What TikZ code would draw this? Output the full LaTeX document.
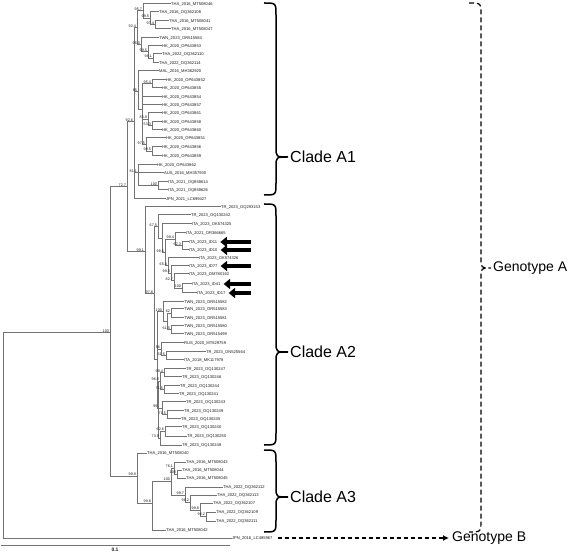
\documentclass[tikz,border=0pt]{standalone}
\usepackage{fontspec}
\setmainfont{Liberation Sans}
\usetikzlibrary{arrows.meta}
\definecolor{treegray}{RGB}{115,115,115}
\definecolor{labtext}{RGB}{25,25,25}
\newcounter{bsn}
\newcommand\vl[3]{\draw[br] (#1,#2) -- (#1,#3);}
\newcommand\hl[3]{\draw[br] (#1,#3) -- (#2,#3);}
\newcommand\lf[5]{\draw[br] (#1,#3) -- (#2,#3) node[leaf] (#4) {#5};}
\newcommand\bsl[3]{\stepcounter{bsn}\node[boot] (bs\arabic{bsn}) at ({#1-0.6},{#2-0.2}) {#3};}
\newcommand\curlybrace[7]{\draw[#1] (#2,#5) .. controls (#3,#5) .. (#3,#5+12) -- (#3,#6-10) .. controls (#3,#6) .. (#4,#6) .. controls (#3,#6) .. (#3,#6+10) -- (#3,#7-12) .. controls (#3,#7) .. (#2,#7);}
\begin{document}
\begin{tikzpicture}[x=1pt,y=-1pt,
  br/.style={draw=treegray, line width=1pt, line cap=rect},
  leaf/.style={anchor=west, inner sep=0.6pt, font=\fontsize{4.1}{4.5}\selectfont, text=labtext},
  boot/.style={anchor=south east, inner sep=0.3pt, font=\fontsize{3.7}{4}\selectfont, text=labtext},
  big/.style={anchor=west, inner sep=0pt, font=\fontsize{16}{19}\selectfont},
  gbig/.style={anchor=west, inner sep=0pt, font=\fontsize{14}{17}\selectfont},
  brc/.style={draw=black, line width=1.5pt},
  bigarr/.style={draw=black, line width=3.2pt, -{Triangle[length=6.5pt,width=10pt]}},
  gbarr/.style={draw=black, line width=1.2pt, dash pattern=on 4pt off 3pt, -{Latex[length=6pt,width=6pt]}, shorten >=3pt}]
\useasboundingbox (0,0) rectangle (568,553);
% ---------- backbone ----------
\vl{3}{333}{538}
\hl{3}{110}{333} \bsl{110}{333}{100}
\lf{3}{231}{538}{jpnB}{JPN\_2016\_LC485967}
\vl{110}{187}{476}
\hl{110}{127}{187} \bsl{127}{187}{72.7}
\vl{127}{122}{252}
% ---------- clade A1 ----------
\hl{127}{134}{122} \bsl{134}{122}{92.6}
\vl{134}{28}{199}
\hl{134}{137}{28} \bsl{137}{28}{92.4}
\vl{137}{11}{45}
\hl{137}{143}{11} \bsl{143}{11}{95.7}
\vl{143}{4}{18.5}
\lf{143}{170}{4}{l1}{THA\_2016\_MT508046}
\hl{143}{150}{18.5} \bsl{150}{18.5}{99.5}
\vl{150}{12}{25}
\lf{150}{158}{12}{l2}{THA\_2016\_OQ362108}
\hl{150}{155}{25} \bsl{155}{25}{97.4}
\vl{155}{21}{29}
\lf{155}{168}{21}{l3}{THA\_2016\_MT508041}
\lf{155}{170}{29}{l4}{THA\_2016\_MT508047}
\hl{137}{141}{45} \bsl{141}{45}{95.0}
\vl{141}{38}{52}
\lf{141}{158}{38}{l5}{TWN\_2023\_OR515584}
\hl{141}{148}{52} \bsl{148}{52}{99.5}
\vl{148}{46}{58.5}
\lf{148}{161}{46}{l6}{HK\_2020\_OP643853}
\hl{148}{153}{58.5} \bsl{153}{58.5}{98.1}
\vl{153}{54}{63}
\lf{153}{161}{54}{l7}{THA\_2022\_OQ362110}
\lf{153}{158}{63}{l8}{THA\_2022\_OQ362114}
\hl{134}{138}{92} \bsl{138}{92}{85}
\vl{138}{71}{110}
\lf{138}{158}{71}{l9}{MAL\_2016\_MH362920}
\hl{138}{142}{110}
\vl{142}{84}{144.75}
\hl{142}{152}{84} \bsl{152}{84}{95.4}
\vl{152}{80}{88}
\lf{152}{165}{80}{l10}{HK\_2020\_OP643852}
\lf{152}{161}{88}{l11}{HK\_2020\_OP643855}
\lf{142}{161}{97}{l12}{HK\_2020\_OP643854}
\lf{142}{161}{105}{l13}{HK\_2020\_OP643857}
\hl{142}{148}{119.5} \bsl{148}{119.5}{85.9}
\vl{148}{113}{126}
\lf{148}{161}{113}{l14}{HK\_2020\_OP643861}
\hl{148}{152}{126} \bsl{152}{126}{53.3}
\vl{152}{122}{130}
\lf{152}{161}{122}{l15}{HK\_2020\_OP643858}
\lf{152}{161}{130}{l16}{HK\_2020\_OP643860}
\hl{142}{146}{144.75} \bsl{146}{144.75}{97.5}
\vl{146}{138}{151.5}
\lf{146}{165}{138}{l17}{HK\_2020\_OP643851}
\hl{146}{152}{151.5} \bsl{152}{151.5}{99.5}
\vl{152}{147}{156}
\lf{152}{161}{147}{l18}{HK\_2020\_OP643856}
\lf{152}{161}{156}{l19}{HK\_2020\_OP643859}
\hl{134}{138}{173} \bsl{138}{173}{81.1}
\vl{138}{165}{186}
\lf{138}{156}{165}{l20}{HK\_2020\_OP643862}
\lf{138}{163}{173}{l21}{AUS\_2016\_MH357930}
\hl{138}{158}{186} \bsl{158}{186}{100}
\vl{158}{182}{190}
\lf{158}{167}{182}{l22}{ITA\_2021\_OQ858614}
\lf{158}{167}{190}{l23}{ITA\_2021\_OQ858626}
\lf{134}{165}{199}{l24}{JPN\_2021\_LC699427}
% ---------- clade A2 ----------
\hl{127}{145}{252} \bsl{145}{252}{99.1}
\vl{145}{207}{294}
\lf{145}{220}{207}{l25}{TR\_2023\_OQ293153}
\hl{145}{154}{294} \bsl{154}{294}{97.8}
\vl{154}{227}{360}
\hl{154}{158}{227} \bsl{158}{227}{67.5}
\vl{158}{215}{238.5}
\lf{158}{190}{215}{l26}{TR\_2023\_OQ130242}
\hl{158}{162}{238.5}
\vl{162}{224}{253}
\lf{162}{191}{224}{l27}{ITA\_2023\_OK574325}
\hl{162}{165}{253} \bsl{165}{253}{98.5}
\vl{165}{239.5}{266}
\hl{165}{175}{239.5} \bsl{175}{239.5}{99.4}
\vl{175}{233}{246}
\lf{175}{185}{233}{l28}{ITA\_2021\_OR366665}
\hl{175}{182}{246} \bsl{182}{246}{62.3}
\vl{182}{242}{250}
\lf{182}{188}{242}{id11}{ITA\_2023\_ID11}
\lf{182}{188}{250}{id10}{ITA\_2023\_ID10}
\hl{165}{168}{266} \bsl{168}{266}{65.4}
\vl{168}{258}{273.5}
\lf{168}{198}{258}{l29}{ITA\_2023\_OK574326}
\hl{168}{171}{273.5} \bsl{171}{273.5}{99.3}
\vl{171}{266}{281}
\lf{171}{188}{266}{id77}{ITA\_2023\_ID77}
\hl{171}{174}{281} \bsl{174}{281}{82.7}
\vl{174}{274}{288.5}
\lf{174}{188}{274}{l30}{ITA\_2023\_OM780162}
\hl{174}{182}{288.5} \bsl{182}{288.5}{100}
\vl{182}{284}{293}
\lf{182}{191}{284}{id41}{ITA\_2023\_ID41}
\lf{182}{196}{293}{id17}{ITA\_2023\_ID17}
\hl{154}{157}{360}
\vl{157}{312}{408.5}
\hl{157}{163}{312} \bsl{163}{312}{100}
\vl{163}{302}{322}
\lf{163}{183}{302}{l31}{TWN\_2023\_OR515582}
\hl{163}{167}{322}
\vl{167}{313.5}{330}
\hl{167}{171}{313.5} \bsl{171}{313.5}{62}
\vl{171}{309}{318}
\lf{171}{183}{309}{l32}{TWN\_2023\_OR515583}
\lf{171}{183}{318}{l33}{TWN\_2023\_OR515581}
\hl{167}{171}{330} \bsl{171}{330}{61.5}
\vl{171}{326}{334}
\lf{171}{183}{326}{l34}{TWN\_2023\_OR515580}
\lf{171}{183}{334}{l35}{TWN\_2023\_OR515499}
\hl{157}{161}{349.5} \bsl{161}{349.5}{86}
\vl{161}{343}{356}
\lf{161}{183}{343}{l36}{RUS\_2020\_MT629759}
\hl{161}{166}{356} \bsl{166}{356}{61.5}
\vl{166}{352}{360}
\lf{166}{205}{352}{l37}{TR\_2023\_ON525564}
\lf{166}{183}{360}{l38}{ITA\_2018\_MK117978}
\hl{157}{158.5}{408.5} \bsl{158.5}{408.5}{99}
\vl{158.5}{381.5}{438}
\hl{158.5}{160}{381.5} \bsl{160}{381.5}{96.8}
\vl{160}{373}{390}
\hl{160}{164}{373} \bsl{164}{373}{99.4}
\vl{164}{369}{377}
\lf{164}{185}{369}{l39}{TR\_2023\_OQ130247}
\lf{164}{181}{377}{l40}{TR\_2023\_OQ130246}
\hl{160}{164}{390} \bsl{164}{390}{71.5}
\vl{164}{386}{394}
\lf{164}{179}{386}{l41}{TR\_2023\_OQ130244}
\lf{164}{178}{394}{l42}{TR\_2023\_OQ130241}
\hl{158.5}{162}{408.5}
\vl{162}{402}{415}
\lf{162}{185}{402}{l43}{TR\_2023\_OQ130243}
\hl{162}{167}{415} \bsl{167}{415}{71.5}
\vl{167}{411}{419}
\lf{167}{183}{411}{l44}{TR\_2023\_OQ130249}
\lf{167}{180}{419}{l45}{TR\_2023\_OQ130245}
\hl{158.5}{160}{438} \bsl{160}{438}{73.9}
\vl{160}{431.5}{445}
\hl{160}{165}{431.5} \bsl{165}{431.5}{62.6}
\vl{165}{427}{436}
\lf{165}{181}{427}{l46}{TR\_2023\_OQ130240}
\lf{165}{186}{436}{l47}{TR\_2023\_OQ130250}
\lf{160}{181}{445}{l48}{TR\_2023\_OQ130248}
% ---------- clade A3 ----------
\hl{110}{137}{476} \bsl{137}{476}{99.8}
\vl{137}{453}{503}
\lf{137}{146}{453}{l49}{THA\_2016\_MT508040}
\hl{137}{152}{503} \bsl{152}{503}{99.8}
\vl{152}{481.5}{530}
\hl{152}{171}{481.5} \bsl{171}{481.5}{100}
\vl{171}{468}{495}
\hl{171}{174}{468} \bsl{174}{468}{76.1}
\vl{174}{462}{474}
\lf{174}{185}{462}{l50}{THA\_2016\_MT508043}
\hl{174}{177}{474} \bsl{177}{474}{100}
\vl{177}{470}{478}
\lf{177}{181}{470}{l51}{THA\_2016\_MT508044}
\lf{177}{185}{478}{l52}{THA\_2016\_MT508045}
\hl{171}{185}{495} \bsl{185}{495}{99.7}
\vl{185}{487}{502.5}
\lf{185}{222}{487}{l53}{THA\_2022\_OQ362112}
\hl{185}{190}{502.5} \bsl{190}{502.5}{98.2}
\vl{190}{495}{510}
\lf{190}{216}{495}{l54}{THA\_2022\_OQ362113}
\hl{190}{200}{510} \bsl{200}{510}{99.8}
\vl{200}{503}{516.5}
\lf{200}{212}{503}{l55}{THA\_2022\_OQ362107}
\hl{200}{206}{516.5} \bsl{206}{516.5}{96.2}
\vl{206}{512}{521}
\lf{206}{215}{512}{l56}{THA\_2022\_OQ362109}
\lf{206}{215}{521}{l57}{THA\_2022\_OQ362111}
\lf{152}{165}{530}{l58}{THA\_2016\_MT508042}
% ---------- scale bar ----------
\draw[draw=treegray, line width=1pt] (1,545) -- (230,545);
\node[font=\fontsize{5}{6}\selectfont\bfseries, text=labtext, inner sep=0pt] (scl) at (115,550) {0.1};
% ---------- markers ----------
\coordinate (arrtail) at (251,0);
\foreach \n in {id11,id10,id77,id41,id17}
  \draw[bigarr] (\n.east -| arrtail) -- ([xshift=2pt]\n.east);
% ---------- clade labels ----------
\node[big] (cA1) at (290,157) {Clade A1};
\node[big] (cA2) at (290,352) {Clade A2};
\node[big] (cA3) at (290,497) {Clade A3};
\curlybrace{brc}{264}{276}{288}{3}{157}{195}
\curlybrace{brc}{264}{276}{288}{204}{352}{445}
\curlybrace{brc}{264}{276}{288}{450}{497}{532}
\curlybrace{brc,dash pattern=on 5pt off 3pt,line width=1.2pt}{469}{481}{491}{3}{268}{532}
\node[gbig] (genA) at (493,268) {Genotype A};
\node[gbig] (genB) at (452,538) {Genotype B};
\draw[gbarr] ([xshift=4pt]jpnB.east) -- (genB.west);
\end{tikzpicture}
\end{document}
